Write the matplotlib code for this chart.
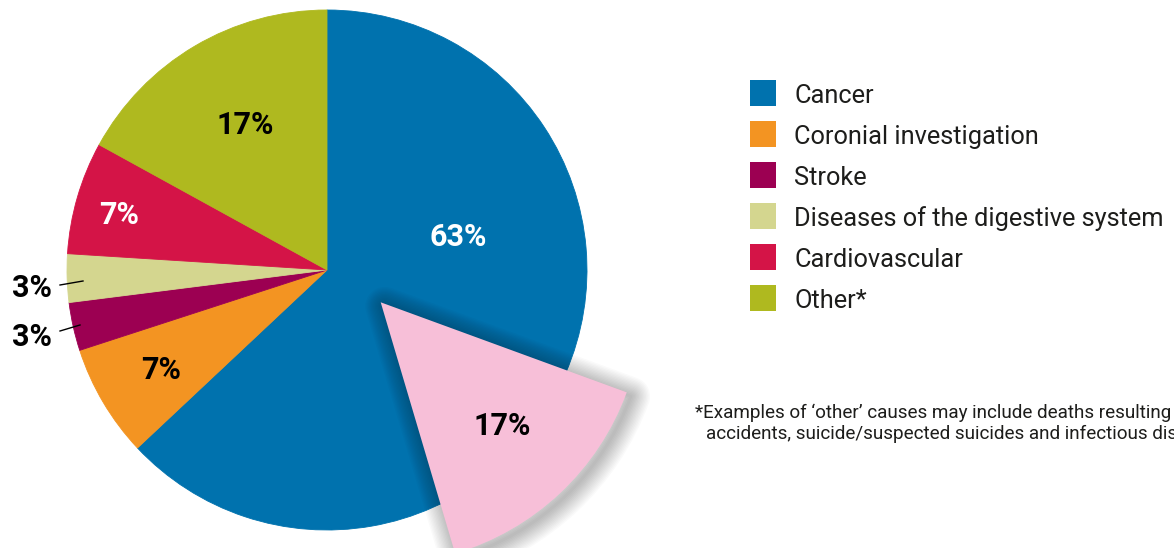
import matplotlib
matplotlib.use("Agg")
import matplotlib.pyplot as plt
from matplotlib.patches import Wedge, Rectangle

# data
categories = ["Cancer", "Coronial investigation", "Stroke",
              "Diseases of the digestive system", "Cardiovascular", "Other*"]
shares = [63, 7, 3, 3, 7, 17]
colors = ["#0072ae", "#f39422", "#9c0052", "#d4d68f", "#d41447", "#afb91f"]

# part of the cancer slice pulled out of the pie
highlight_share = 17
highlight_color = "#f7bfd8"

# the reference crops this note at its right edge
footnote = ["*Examples of \u2018other\u2019 causes may include deaths resulting from",
            "accidents, suicide/suspected suicides and infectious diseases."]

W, H = 1174, 548
CX, CY, R = 327, 270, 260   # pie centre / radius in pixels


def px(x, y):
    # pixel position -> data units of the pie axes
    return (x - CX) / R, (CY - y) / R


fig = plt.figure(figsize=(W / 100, H / 100), dpi=100)
ax = fig.add_axes([0, 0, 1, 1])

wedges, _ = ax.pie(shares, colors=colors, startangle=90, counterclock=False, radius=1)
for w in wedges:
    w.set_edgecolor(w.get_facecolor())
    w.set_linewidth(0.6)

x0, y1 = px(0, 0)
x1, y0 = px(W, H)
ax.set_xlim(x0, x1)
ax.set_ylim(y0, y1)
ax.set_aspect("equal")
ax.axis("off")

# exploded highlight wedge with a soft shadow
apex = px(380.7, 302.3)
t1, t2 = -73.5, -20.1
rad = 262 / R
sh = (apex[0] + 4 / R, apex[1] - 4 / R)
for lw in range(28, 0, -2):
    ax.add_patch(Wedge(sh, rad, t1, t2, facecolor="none", edgecolor="black",
                       lw=lw, alpha=0.018, joinstyle="round"))
ax.add_patch(Wedge(apex, rad, t1, t2, facecolor=highlight_color, lw=0))

# value labels (baseline positions in pixels)
lab = dict(family="Roboto", weight="bold", fontsize=22, ha="center", va="baseline")
ax.text(*px(458.5, 246.5), f"{shares[0]}%", color="white", **lab)
ax.text(*px(502, 435), f"{highlight_share}%", color="black", **lab)
ax.text(*px(161, 379), f"{shares[1]}%", color="black", **lab)
ax.text(*px(32, 346), f"{shares[2]}%", color="black", **lab)
ax.text(*px(32, 297), f"{shares[3]}%", color="black", **lab)
ax.text(*px(119, 224), f"{shares[4]}%", color="white", **lab)
ax.text(*px(245.5, 134), f"{shares[5]}%", color="black", **lab)

# leader lines for the two small slices
for (xa, ya), (xb, yb) in [((60, 285), (83, 281)), ((60, 331), (80, 325))]:
    (u0, v0), (u1, v1) = px(xa, ya), px(xb, yb)
    ax.plot([u0, u1], [v0, v1], color="black", lw=1)

# legend
for i, (name, c) in enumerate(zip(categories, colors)):
    yc = 93 + 41 * i
    ax.add_patch(Rectangle(px(750, yc + 13), 26 / R, 26 / R, facecolor=c, lw=0))
    ax.text(*px(794, yc + 10), name, family="Roboto", fontsize=18.3,
            va="baseline", ha="left", color="#1d1d1b")

# footnote
ax.text(*px(695, 418), footnote[0], family="Roboto", fontsize=13.6,
        va="baseline", ha="left", color="#1d1d1b")
ax.text(*px(706, 439), footnote[1], family="Roboto", fontsize=13.6,
        va="baseline", ha="left", color="#1d1d1b")

fig.savefig("out.png", dpi=100)
